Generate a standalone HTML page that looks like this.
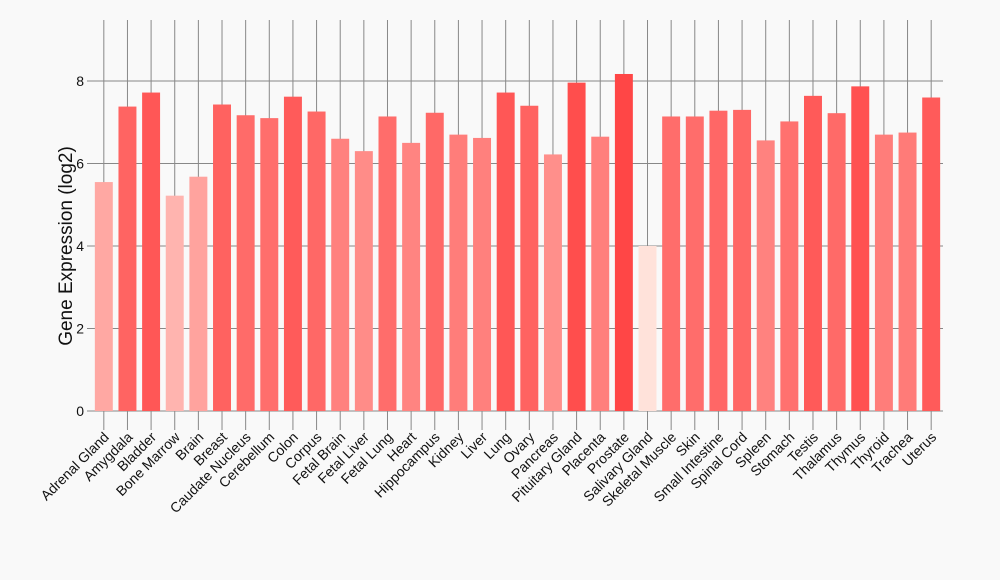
<!DOCTYPE html>
<html><head><meta charset="utf-8"><style>
html,body{margin:0;padding:0;background:#f9f9f9;}
svg{display:block;font-family:"Liberation Sans",Arial,sans-serif;}
</style></head><body>
<svg id="chart" width="1000" height="580">
<rect width="1000" height="580" fill="#f9f9f9"/>
<g id="grid"></g><g id="bars"></g><g id="xlabels"></g><g id="yticks"></g>
<text transform="translate(72,246) rotate(-90)" text-anchor="middle" font-size="19" fill="#111">Gene Expression (log2)</text>
</svg>
<script>
const categories=["Adrenal Gland","Amygdala","Bladder","Bone Marrow","Brain","Breast","Caudate Nucleus","Cerebellum","Colon","Corpus","Fetal Brain","Fetal Liver","Fetal Lung","Heart","Hippocampus","Kidney","Liver","Lung","Ovary","Pancreas","Pituitary Gland","Placenta","Prostate","Salivary Gland","Skeletal Muscle","Skin","Small Intestine","Spinal Cord","Spleen","Stomach","Testis","Thalamus","Thymus","Thyroid","Trachea","Uterus"];
const values=[5.55,7.38,7.72,5.22,5.68,7.43,7.17,7.1,7.62,7.26,6.6,6.3,7.14,6.5,7.23,6.7,6.62,7.72,7.4,6.22,7.96,6.65,8.17,4.0,7.14,7.14,7.28,7.3,6.56,7.02,7.64,7.22,7.87,6.7,6.75,7.6];
const yTicks=[0,2,4,6,8];
const NS="http://www.w3.org/2000/svg";
const x0=92,x1=943,yBase=411,yTop8=81;
const band=(x1-x0)/categories.length;
function xPos(i){return x0+band*(i+0.5);}
function yPos(v){return yBase-(yBase-yTop8)*v/8;}
const vmin=Math.min(...values),vmax=Math.max(...values);
function color(v){const t=(v-vmin)/(vmax-vmin||1);
 const a=[255,226,218],b=[255,70,70];
 return "rgb("+a.map((c,k)=>Math.round(c+(b[k]-c)*t)).join(",")+")";}
function mk(tag,attrs,parent){const e=document.createElementNS(NS,tag);for(const k in attrs)e.setAttribute(k,attrs[k]);parent.appendChild(e);return e;}
const grid=document.getElementById('grid'),bars=document.getElementById('bars'),xl=document.getElementById('xlabels'),yt=document.getElementById('yticks');
yTicks.forEach(v=>{
 const l=mk('line',{x1:x0,x2:x1,y1:yPos(v),y2:yPos(v),stroke:'#888','stroke-width':1},grid);
 
 
 const tk=mk('line',{x1:x0-5,x2:x0,y1:yPos(v),y2:yPos(v),stroke:'#888'},yt);
 
 
 const t=mk('text',{x:x0-8,y:yPos(v)+5,'text-anchor':'end','font-size':14,fill:'#111'},yt);
 t.textContent=v;
 
 
});
categories.forEach((c,i)=>{
 const cx=xPos(i);
 const g=mk('line',{x1:cx,x2:cx,y1:20,y2:yBase+19,stroke:'#888','stroke-width':1},grid);
 
 
 const w=band*0.76;
 const r=mk('rect',{x:cx-w/2,y:yPos(values[i]),width:w,height:yBase-yPos(values[i]),fill:color(values[i])},bars);
 
 
 const t=mk('text',{x:0,y:0,'text-anchor':'end','font-size':14,fill:'#111',transform:'translate('+(cx+6)+','+(yBase+27)+') rotate(-45)'},xl);
 t.textContent=c;
 
 
});
</script>
</body></html>
